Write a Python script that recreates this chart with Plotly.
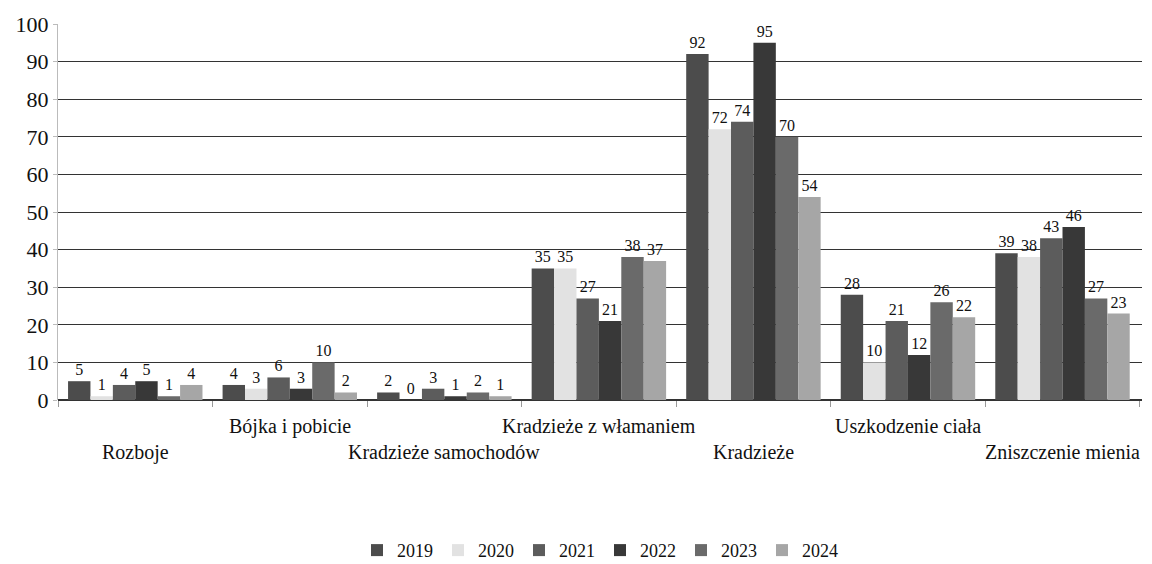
import plotly.graph_objects as go

# categories and yearly values
categories = ['Rozboje', 'Bójka i pobicie', 'Kradzieże samochodów',
              'Kradzieże z włamaniem', 'Kradzieże', 'Uszkodzenie ciała',
              'Zniszczenie mienia']
years = ['2019', '2020', '2021', '2022', '2023', '2024']

v2019 = [5, 4, 2, 35, 92, 28, 39]
v2020 = [1, 3, 0, 35, 72, 10, 38]
v2021 = [4, 6, 3, 27, 74, 21, 43]
v2022 = [5, 3, 1, 21, 95, 12, 46]
v2023 = [1, 10, 2, 38, 70, 26, 27]
v2024 = [4, 2, 1, 37, 54, 22, 23]

series = [v2019, v2020, v2021, v2022, v2023, v2024]
colors = ['#4c4c4c', '#e2e2e2', '#5c5c5c', '#383838', '#6a6a6a', '#a6a6a6']
SERIF = 'Liberation Serif, Times New Roman, serif'

fig = go.Figure()
for year, vals, col in zip(years, series, colors):
    fig.add_trace(go.Bar(
        x=categories, y=vals, name=year,
        marker=dict(color=col, line=dict(width=0)),
        text=vals, textposition='outside',
        textfont=dict(family=SERIF, size=16, color='#111'),
        cliponaxis=False,
    ))

# staggered category labels (alternating rows like the original)
for i, cat in enumerate(categories):
    fig.add_annotation(
        x=cat, xref='x', y=-0.035 if i % 2 else -0.105, yref='paper',
        text=cat, showarrow=False, yanchor='top',
        font=dict(family=SERIF, size=20, color='#111'),
    )

# page body has an 8px margin, so the figure is sized a bit smaller
fig.update_layout(
    width=1144, height=556,
    margin=dict(l=50, r=10, t=16, b=164, autoexpand=False),
    paper_bgcolor='white', plot_bgcolor='white',
    barmode='group', bargap=0.13, bargroupgap=0,
    font=dict(family=SERIF, color='#111'),
    showlegend=True,
    legend=dict(orientation='h', x=0.5, xanchor='center', y=-0.40, yanchor='middle',
                font=dict(family=SERIF, size=18), itemwidth=30),
    uniformtext=dict(minsize=10, mode='show'),
)
fig.update_xaxes(showticklabels=False, ticks='outside', tickson='boundaries',
                 ticklen=6, tickcolor='#999', showline=False, showgrid=False,
                 automargin=False)
fig.update_yaxes(range=[0, 100], dtick=10, showgrid=True, gridcolor='#333',
                 gridwidth=1, zeroline=True, zerolinecolor='#333',
                 tickfont=dict(family=SERIF, size=22),
                 showline=True, linecolor='#bbb', linewidth=1,
                 ticks='outside', ticklen=4, tickcolor='#bbb',
                 automargin=False)

fig.write_html('out.html')
